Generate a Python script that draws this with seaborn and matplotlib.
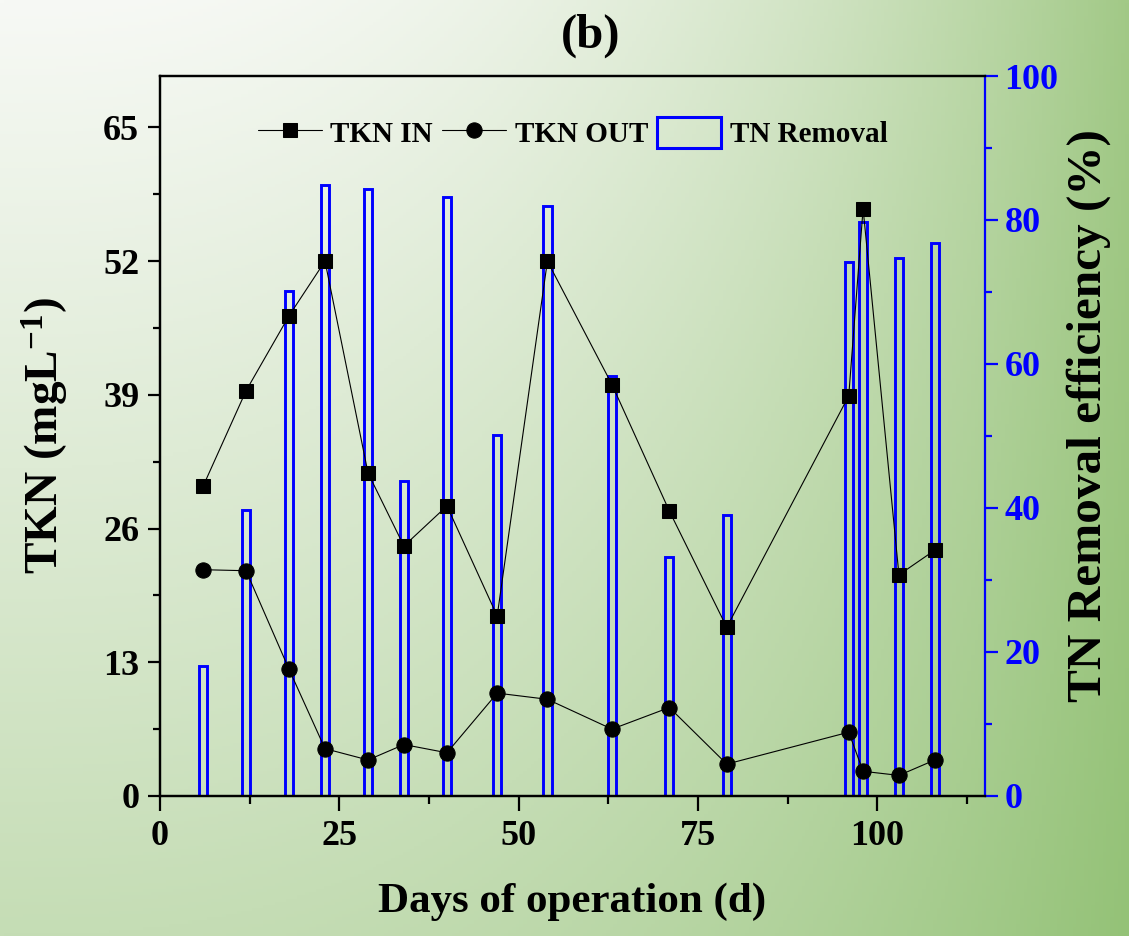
import matplotlib
matplotlib.use("Agg")
import matplotlib.pyplot as plt
import numpy as np
import seaborn as sns
from matplotlib.patches import Patch
from matplotlib.ticker import MultipleLocator

# data
days = [6, 12, 18, 23, 29, 34, 40, 47, 54, 63, 71, 79, 96, 98, 103, 108]
tkn_in = [30.1, 39.4, 46.7, 52.0, 31.4, 24.3, 28.2, 17.5, 52.0, 40.0, 27.7, 16.4, 38.9, 57.1, 21.5, 23.9]
tkn_out = [22.0, 21.9, 12.3, 4.6, 3.5, 5.0, 4.2, 10.0, 9.4, 6.5, 8.6, 3.1, 6.2, 2.4, 2.0, 3.5]
tn_removal = [18.0, 39.7, 70.2, 84.8, 84.3, 43.7, 83.2, 50.1, 82.0, 58.4, 33.2, 39.0, 74.2, 79.7, 74.7, 76.8]

sns.set_style("ticks")
plt.rcParams['font.family'] = ['Liberation Serif', 'DejaVu Serif']
plt.rcParams['font.weight'] = 'bold'
plt.rcParams['text.color'] = 'black'
plt.rcParams['axes.labelcolor'] = 'black'
plt.rcParams['xtick.color'] = 'black'
plt.rcParams['ytick.color'] = 'black'
plt.rcParams['mathtext.fontset'] = 'custom'
plt.rcParams['mathtext.rm'] = 'Liberation Serif:bold'
plt.rcParams['mathtext.bf'] = 'Liberation Serif:bold'
plt.rcParams['mathtext.default'] = 'bf'

fig = plt.figure(figsize=(11.29, 9.36), dpi=100)

# gradient background (light top-left -> green bottom-right)
bg = fig.add_axes([0, 0, 1, 1], zorder=-10)
tl = np.array([247, 249, 245]) / 255
tr = np.array([162, 201, 135]) / 255
bl = np.array([197, 221, 181]) / 255
br = np.array([148, 194, 119]) / 255
gx = np.linspace(0, 1, 300) ** 2.4
gy = np.linspace(0, 1, 300)
FX, FY = np.meshgrid(gx, gy)
img = (tl * ((1 - FX) * (1 - FY))[..., None] + tr * (FX * (1 - FY))[..., None]
       + bl * ((1 - FX) * FY)[..., None] + br * (FX * FY)[..., None])
bg.imshow(img, aspect='auto', extent=[0, 1, 1, 0])
bg.axis('off')

ax = fig.add_axes([0.1417, 0.1496, 0.7308, 0.7692])
ax2 = ax.twinx()
ax.set_zorder(ax2.get_zorder() + 1)
ax.patch.set_visible(False)
ax2.patch.set_visible(False)

# TN removal bars on the right axis
ax2.bar(days, tn_removal, width=1.15, fill=False, edgecolor='#0000ff', linewidth=2.1)

# TKN lines on the left axis
sns.lineplot(x=days, y=tkn_in, ax=ax, color='black', linewidth=0.8, marker='s',
             markersize=10, markeredgecolor='black', label='TKN IN')
sns.lineplot(x=days, y=tkn_out, ax=ax, color='black', linewidth=0.8, marker='o',
             markersize=11, markeredgecolor='black', label='TKN OUT')

ax.set_xlim(0, 115)
ax.set_ylim(0, 70)
ax2.set_ylim(0, 100)
ax.xaxis.set_major_locator(MultipleLocator(25))
ax.xaxis.set_minor_locator(MultipleLocator(12.5))
ax.yaxis.set_major_locator(MultipleLocator(13))
ax.yaxis.set_minor_locator(MultipleLocator(6.5))
ax2.yaxis.set_major_locator(MultipleLocator(20))
ax2.yaxis.set_minor_locator(MultipleLocator(10))

for a in (ax, ax2):
    for s in a.spines.values():
        s.set_linewidth(1.6)
        s.set_color('black')
ax.spines['right'].set_visible(False)
ax2.spines['right'].set_color('#0000ff')

ax.tick_params(which='major', direction='out', length=9, width=1.6, labelsize=26, pad=6,
               colors='black')
ax.tick_params(which='minor', direction='out', length=5, width=1.6, colors='black')
ax.tick_params(axis='x', which='major', length=11)
ax.tick_params(axis='x', which='minor', length=6)
ax2.tick_params(which='major', direction='out', length=9, width=1.6, labelsize=26, pad=5,
                colors='#0000ff')
ax2.tick_params(which='minor', direction='out', length=5, width=1.6, colors='#0000ff')

ax.set_xlabel('Days of operation (d)', fontsize=31, fontweight='bold', color='black')
ax.set_ylabel('TKN (mgL$^{-1}$)', fontsize=34, fontweight='bold', color='black')
ax2.set_ylabel('TN Removal efficiency (%)', fontsize=35.5, fontweight='bold', color='black')
ax.xaxis.set_label_coords(0.5, -0.12)
ax.yaxis.set_label_coords(-0.108, 0.5)
ax2.yaxis.set_label_coords(1.098, 0.528)

fig.text(0.523, 0.962, '(b)', fontsize=35, fontweight='bold', ha='center', va='center',
         color='black')

handles, labels = ax.get_legend_handles_labels()
handles.append(Patch(facecolor='none', edgecolor='#0000ff', linewidth=2.2))
labels.append('TN Removal')
leg = ax.legend(handles, labels, ncol=3, loc='center', bbox_to_anchor=(0.5, 0.921),
                frameon=False, fontsize=21, handlelength=2.2, handleheight=1.25,
                handletextpad=0.3, columnspacing=0.3)
for t in leg.get_texts():
    t.set_color('black')

fig.savefig('out.png', dpi=100)
